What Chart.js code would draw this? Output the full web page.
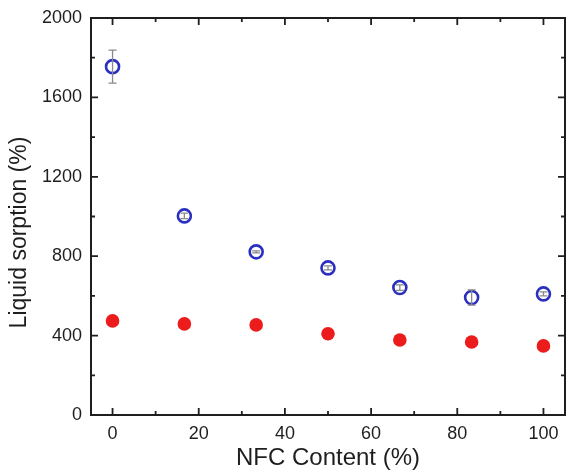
<!DOCTYPE html>
<html>
<head>
<meta charset="utf-8">
<script src="https://cdn.jsdelivr.net/npm/chart.js@4"></script>
<style>
  html, body { margin: 0; padding: 0; background: #fff; }
  #wrap { width: 566px; height: 473px; }
</style>
</head>
<body>
<div id="wrap"><canvas id="c"></canvas></div>
<script>
/* Liquid sorption vs NFC content: open blue circles with error bars, filled red circles */

const NFC = [0, 16.67, 33.33, 50, 66.67, 83.33, 100];
const OPEN_VALUES = [1755, 1003, 822, 741, 642, 592, 610];
const OPEN_ERR = [83, 14, 5, 10, 14, 38, 10];
const FILLED_VALUES = [474, 459, 454, 409, 378, 368, 348];
const X_TICKS = [0, 20, 40, 60, 80, 100];
const X_MINOR = [10, 30, 50, 70, 90];
const Y_TICKS = [0, 400, 800, 1200, 1600, 2000];
const Y_MINOR = [200, 600, 1000, 1400, 1800];
const Y_TITLE = 'Liquid sorption (%)';

const BLUE = '#2b2fc0';
const RED = '#ec1c1c';
const INK = '#1e1e1e';
const FONT = '"Liberation Sans", Arial, sans-serif';

// error bars drawn in data units via the scales
const errorBars = {
  id: 'errorBars',
  afterDatasetsDraw(chart) {
    const { ctx, scales: { x, y } } = chart;
    ctx.save();
    ctx.strokeStyle = '#8a8a8a';
    ctx.lineWidth = 1.3;
    NFC.forEach((v, i) => {
      const px = x.getPixelForValue(v);
      const top = y.getPixelForValue(OPEN_VALUES[i] + OPEN_ERR[i]);
      const bot = y.getPixelForValue(OPEN_VALUES[i] - OPEN_ERR[i]);
      ctx.beginPath();
      ctx.moveTo(px, top); ctx.lineTo(px, bot);
      ctx.moveTo(px - 4, top); ctx.lineTo(px + 4, top);
      ctx.moveTo(px - 4, bot); ctx.lineTo(px + 4, bot);
      ctx.stroke();
    });
    ctx.restore();
  }
};

// box frame with inward ticks on all four sides, plus the y title (sits a bit below centre)
const frame = {
  id: 'frame',
  afterDraw(chart) {
    const { ctx, chartArea: a, scales: { x, y } } = chart;
    ctx.save();
    ctx.strokeStyle = INK;
    ctx.lineWidth = 2;
    ctx.strokeRect(a.left, a.top, a.right - a.left, a.bottom - a.top);
    ctx.lineWidth = 1.8;
    const tick = (vals, len) => {
      vals.forEach((v) => {
        const px = x.getPixelForValue(v);
        ctx.beginPath();
        ctx.moveTo(px, a.bottom); ctx.lineTo(px, a.bottom - len);
        ctx.moveTo(px, a.top); ctx.lineTo(px, a.top + len);
        ctx.stroke();
      });
    };
    const tickY = (vals, len) => {
      vals.forEach((v) => {
        const py = y.getPixelForValue(v);
        ctx.beginPath();
        ctx.moveTo(a.left, py); ctx.lineTo(a.left + len, py);
        ctx.moveTo(a.right, py); ctx.lineTo(a.right - len, py);
        ctx.stroke();
      });
    };
    tick(X_TICKS, 7); tick(X_MINOR, 4);
    tickY(Y_TICKS, 7); tickY(Y_MINOR, 4);

    ctx.translate(20, (a.top + a.bottom) / 2 + 16);
    ctx.rotate(-Math.PI / 2);
    ctx.fillStyle = INK;
    ctx.font = '23px ' + FONT;
    ctx.textAlign = 'center';
    ctx.textBaseline = 'middle';
    ctx.fillText(Y_TITLE, 0, 0);
    ctx.restore();
  }
};

new Chart(document.getElementById('c'), {
  type: 'scatter',
  data: {
    datasets: [
      {
        label: 'open',
        data: NFC.map((v, i) => ({ x: v, y: OPEN_VALUES[i] })),
        pointRadius: 6.5, pointHoverRadius: 6.5,
        pointBorderWidth: 2.6,
        borderColor: BLUE, backgroundColor: 'rgba(255,255,255,0)',
      },
      {
        label: 'filled',
        data: NFC.map((v, i) => ({ x: v, y: FILLED_VALUES[i] })),
        pointRadius: 6.8, pointHoverRadius: 6.8,
        pointBorderWidth: 0,
        borderColor: RED, backgroundColor: RED,
      },
    ],
  },
  options: {
    responsive: true,
    maintainAspectRatio: false,
    animation: false,
    layout: { autoPadding: false, padding: { top: 18, right: 1, bottom: 0, left: 0 } },
    plugins: { legend: { display: false }, tooltip: { enabled: false } },
    scales: {
      x: {
        type: 'linear', min: -5, max: 105,
        afterBuildTicks: (s) => { s.ticks = X_TICKS.map((v) => ({ value: v })); },
        afterFit: (s) => { s.height = 58; s.paddingLeft = 0; s.paddingRight = 0; },
        grid: { display: false, drawTicks: false },
        border: { display: false },
        ticks: { color: INK, font: { family: FONT, size: 18 }, padding: 8, maxRotation: 0, callback: (v) => String(v) },
        title: { display: true, text: 'NFC Content (%)', color: INK, font: { family: FONT, size: 24 }, padding: { top: 4, bottom: 0 } },
      },
      y: {
        min: 0, max: 2000,
        afterBuildTicks: (s) => { s.ticks = Y_TICKS.map((v) => ({ value: v })); },
        afterFit: (s) => { s.width = 91; s.paddingTop = 0; s.paddingBottom = 0; },
        grid: { display: false, drawTicks: false },
        border: { display: false },
        ticks: { color: INK, font: { family: FONT, size: 18 }, padding: 9, callback: (v) => String(v) },
        title: { display: false },
      },
    },
  },
  plugins: [errorBars, frame],
});
</script>
</body>
</html>
